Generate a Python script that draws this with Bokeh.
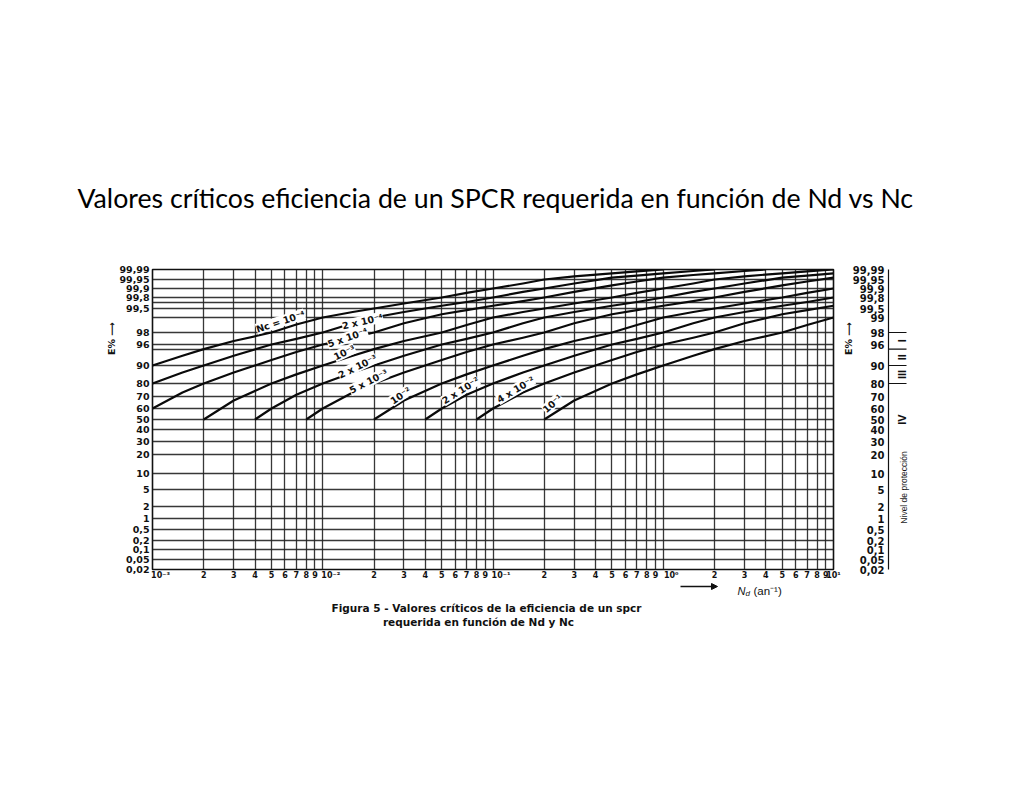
import math
from statistics import NormalDist
import numpy as np
from bokeh.plotting import figure
from bokeh.models import FixedTicker, Label, Range1d, Arrow, NormalHead
from bokeh.layouts import column, row
from bokeh.core.properties import value
from bokeh.embed import file_html
from bokeh.resources import INLINE

TITLE = "Valores críticos eficiencia de un SPCR requerida en función de Nd vs Nc"
CAPTION_1 = "Figura 5 - Valores críticos de la eficiencia de un spcr"
CAPTION_2 = "requerida en función de Nd y Nc"

# ---- E % axis: printed tick values, their labels, and the chart's non-linear scale
E_TICKS = [0.02, 0.05, 0.1, 0.2, 0.5, 1, 2, 5, 10, 20, 30, 40, 50, 60, 70, 80, 90,
           96, 98, 99, 99.5, 99.8, 99.9, 99.95, 99.99]
E_LABELS = ["0,02", "0,05", "0,1", "0,2", "0,5", "1", "2", "5", "10", "20", "30", "40",
            "50", "60", "70", "80", "90", "96", "98", "99", "99,5", "99,8", "99,9",
            "99,95", "99,99"]
E_SCALE = [0, 10, 20, 29, 40, 51, 63, 80, 96, 115, 128, 140, 150, 161, 173, 186, 204,
           225, 237, 252, 261, 272, 281, 290, 300]
E_EXTRA_GRID = [95, 99.7]

# ---- Nd axis
X_DECADES = [1e-3, 1e-2, 1e-1, 1.0, 10.0]
X_DECADE_LABELS = ["10⁻³", "10⁻²", "10⁻¹", "10⁰", "10¹"]
X_MULTIPLIERS = [2, 3, 4, 5, 6, 7, 8, 9]

# ---- protection levels
PROT_LEVELS = [98, 95, 90, 80]
PROT_NAMES = ["I", "II", "III", "IV"]

# ---- curves E% (Nd) for each Nc
NC_LABELS = ["Nc = 10⁻⁴", "2 x 10⁻⁴", "5 x 10⁻⁴", "10⁻³", "2 x 10⁻³", "5 x 10⁻³",
             "10⁻²", "2 x 10⁻²", "4 x 10⁻²", "10⁻¹"]

ND_NC_1E4 = [0.001, 0.0015, 0.002, 0.003, 0.005, 0.007, 0.01, 0.015, 0.02, 0.03, 0.05,
             0.07, 0.1, 0.15, 0.2, 0.3, 0.5, 0.7, 1.0]
E_NC_1E4 = [90, 93.3, 95, 96.7, 98, 98.6, 99, 99.33, 99.5, 99.67, 99.8, 99.86, 99.9,
            99.93, 99.95, 99.967, 99.98, 99.986, 99.99]

ND_NC_2E4 = [0.001, 0.0015, 0.002, 0.003, 0.005, 0.007, 0.01, 0.015, 0.02, 0.03, 0.05,
             0.07, 0.1, 0.15, 0.2, 0.3, 0.5, 0.7, 1.0, 1.5, 2.0]
E_NC_2E4 = [80, 86.7, 90, 93.3, 96, 97.1, 98, 98.67, 99, 99.33, 99.6, 99.71, 99.8,
            99.87, 99.9, 99.93, 99.96, 99.97, 99.98, 99.987, 99.99]

ND_NC_5E4 = [0.001, 0.0015, 0.002, 0.003, 0.005, 0.007, 0.01, 0.015, 0.02, 0.03, 0.05,
             0.07, 0.1, 0.15, 0.2, 0.3, 0.5, 0.7, 1.0, 1.5, 2.0, 3.0, 4.0]
E_NC_5E4 = [60, 73.3, 80, 86.7, 92, 94.3, 96, 97.3, 98, 98.67, 99.2, 99.43, 99.6,
            99.73, 99.8, 99.87, 99.92, 99.94, 99.96, 99.973, 99.98, 99.987, 99.99]

ND_NC_1E3 = [0.002, 0.003, 0.005, 0.007, 0.01, 0.015, 0.02, 0.03, 0.05, 0.07, 0.1, 0.15,
             0.2, 0.3, 0.5, 0.7, 1.0, 1.5, 2.0, 3.0, 5.0, 7.0, 10.0]
E_NC_1E3 = [50, 66.7, 80, 85.7, 90, 93.3, 95, 96.7, 98, 98.57, 99, 99.33, 99.5, 99.67,
            99.8, 99.86, 99.9, 99.93, 99.95, 99.967, 99.98, 99.986, 99.99]

ND_NC_2E3 = [0.004, 0.005, 0.007, 0.01, 0.015, 0.02, 0.03, 0.05, 0.07, 0.1, 0.15, 0.2,
             0.3, 0.5, 0.7, 1.0, 1.5, 2.0, 3.0, 5.0, 7.0, 10.0]
E_NC_2E3 = [50, 60, 71.4, 80, 86.7, 90, 93.3, 96, 97.1, 98, 98.67, 99, 99.33, 99.6,
            99.71, 99.8, 99.87, 99.9, 99.93, 99.96, 99.97, 99.98]

ND_NC_5E3 = [0.008, 0.01, 0.015, 0.02, 0.03, 0.05, 0.07, 0.1, 0.15, 0.2, 0.3, 0.5, 0.7,
             1.0, 1.5, 2.0, 3.0, 5.0, 7.0, 10.0]
E_NC_5E3 = [50, 60, 73.3, 80, 86.7, 92, 94.3, 96, 97.3, 98, 98.67, 99.2, 99.43, 99.6,
            99.73, 99.8, 99.87, 99.92, 99.94, 99.96]

ND_NC_1E2 = [0.02, 0.03, 0.05, 0.07, 0.1, 0.15, 0.2, 0.3, 0.5, 0.7, 1.0, 1.5, 2.0, 3.0,
             5.0, 7.0, 10.0]
E_NC_1E2 = [50, 66.7, 80, 85.7, 90, 93.3, 95, 96.7, 98, 98.57, 99, 99.33, 99.5, 99.67,
            99.8, 99.86, 99.9]

ND_NC_2E2 = [0.04, 0.05, 0.07, 0.1, 0.15, 0.2, 0.3, 0.5, 0.7, 1.0, 1.5, 2.0, 3.0, 5.0,
             7.0, 10.0]
E_NC_2E2 = [50, 60, 71.4, 80, 86.7, 90, 93.3, 96, 97.1, 98, 98.67, 99, 99.33, 99.6,
            99.71, 99.8]

ND_NC_4E2 = [0.08, 0.1, 0.15, 0.2, 0.3, 0.5, 0.7, 1.0, 1.5, 2.0, 3.0, 5.0, 7.0, 10.0]
E_NC_4E2 = [50, 60, 73.3, 80, 86.7, 92, 94.3, 96, 97.3, 98, 98.67, 99.2, 99.43, 99.6]

ND_NC_1E1 = [0.2, 0.3, 0.5, 0.7, 1.0, 1.5, 2.0, 3.0, 5.0, 7.0, 10.0]
E_NC_1E1 = [50, 66.7, 80, 85.7, 90, 93.3, 95, 96.7, 98, 98.57, 99]

CURVES = [(ND_NC_1E4, E_NC_1E4), (ND_NC_2E4, E_NC_2E4), (ND_NC_5E4, E_NC_5E4),
          (ND_NC_1E3, E_NC_1E3), (ND_NC_2E3, E_NC_2E3), (ND_NC_5E3, E_NC_5E3),
          (ND_NC_1E2, E_NC_1E2), (ND_NC_2E2, E_NC_2E2), (ND_NC_4E2, E_NC_4E2),
          (ND_NC_1E1, E_NC_1E1)]

# ---------------------------------------------------------------- E% scale transform
_ND = NormalDist()


def _probit(e):
    return np.array([_ND.inv_cdf(v / 100.0) for v in np.atleast_1d(np.asarray(e, float))])


def _pchip_coeffs(xk, yk):
    h = np.diff(xk)
    d = np.diff(yk) / h
    n = len(xk)
    m = np.zeros(n)
    for k in range(1, n - 1):
        if d[k - 1] * d[k] <= 0:
            m[k] = 0.0
        else:
            w1 = 2 * h[k] + h[k - 1]
            w2 = h[k] + 2 * h[k - 1]
            m[k] = (w1 + w2) / (w1 / d[k - 1] + w2 / d[k])
    m[0], m[-1] = d[0], d[-1]
    return h, m


_TK = _probit(E_TICKS)
_SK = np.asarray(E_SCALE, float)
_H, _M = _pchip_coeffs(_TK, _SK)


def ymap(e):
    """Map E% onto the chart's printed (probability-like) vertical scale."""
    t = _probit(e)
    i = np.clip(np.searchsorted(_TK, t) - 1, 0, len(_TK) - 2)
    s = (t - _TK[i]) / _H[i]
    h00 = 2 * s ** 3 - 3 * s ** 2 + 1
    h10 = s ** 3 - 2 * s ** 2 + s
    h01 = -2 * s ** 3 + 3 * s ** 2
    h11 = s ** 3 - s ** 2
    return h00 * _SK[i] + h10 * _H[i] * _M[i] + h01 * _SK[i + 1] + h11 * _H[i] * _M[i + 1]


FONT_TICK = "DejaVu Sans"
INK = "#111111"

# ---------------------------------------------------------------- layout geometry
PAGE_W = 1016
TOP_H = 240
CH_TOP, CH_FRAME_H, CH_BOTTOM = 29, 300, 13
ROW_H = CH_TOP + CH_FRAME_H + CH_BOTTOM
LEFT_W = 116
CH_LEFT, CH_FRAME_W, CH_RIGHT = 36, 681, 10
CH_W = CH_LEFT + CH_FRAME_W + CH_RIGHT
RIGHT_W = PAGE_W - LEFT_W - CH_W
BOT_H = 200
SIDE_YR = (-(CH_BOTTOM), CH_FRAME_H + CH_TOP)


def blank(width, height, xr, yr):
    f = figure(frame_width=width, frame_height=height, x_range=xr, y_range=yr,
               x_axis_type=None, y_axis_type=None, output_backend="svg",
               toolbar_location=None, title_location=None, min_border=0,
               min_border_left=0, min_border_right=0,
               min_border_top=0, min_border_bottom=0)
    f.grid.visible = False
    f.outline_line_color = None
    f.background_fill_color = "white"
    f.border_fill_color = "white"
    return f


# ---------------------------------------------------------------- chart
p = figure(width=CH_W, height=ROW_H, x_axis_type="log",
           x_range=Range1d(1e-3, 10), y_range=Range1d(0, 300),
           output_backend="svg", toolbar_location=None, title_location=None,
           min_border_left=CH_LEFT, min_border_right=CH_RIGHT,
           min_border_top=CH_TOP, min_border_bottom=CH_BOTTOM)
p.background_fill_color = "white"
p.border_fill_color = "white"
p.outline_line_color = INK
p.outline_line_width = 1.6

x_ticks = []
x_over = {}
for d, lab in zip(X_DECADES, X_DECADE_LABELS):
    x_ticks.append(d)
    # decade labels sit just right of their grid line, as printed
    x_over[d] = lab if d == X_DECADES[-1] else "\u2003\u2003" + lab
for d in X_DECADES[:-1]:
    for m in X_MULTIPLIERS:
        v = m * d
        x_ticks.append(v)
        x_over[v] = str(m)

p.xgrid.ticker = FixedTicker(ticks=x_ticks)
p.ygrid.ticker = FixedTicker(ticks=list(E_SCALE) + [float(v) for v in ymap(E_EXTRA_GRID)])
for g in (p.xgrid, p.ygrid):
    g.grid_line_color = "#222222"
    g.grid_line_width = 1.3
    g.grid_line_alpha = 0.9

xa = p.xaxis[0]
xa.ticker = FixedTicker(ticks=x_ticks)
xa.major_label_overrides = x_over
xa.major_tick_out = 0
xa.major_tick_in = 0
xa.minor_tick_out = 0
xa.minor_tick_in = 0
xa.axis_line_color = None
xa.major_label_standoff = 1
xa.major_label_text_font = FONT_TICK
xa.major_label_text_font_style = "bold"
xa.major_label_text_font_size = "8px"
xa.major_label_text_color = INK

ya = p.yaxis[0]
ya.ticker = FixedTicker(ticks=[s for s, e in zip(E_SCALE, E_TICKS) if e != 99])
ya.major_label_overrides = {s: l for s, l in zip(E_SCALE, E_LABELS)}
ya.major_tick_out = 0
ya.major_tick_in = 0
ya.minor_tick_out = 0
ya.minor_tick_in = 0
ya.axis_line_color = None
ya.major_label_standoff = 3
ya.major_label_text_font = FONT_TICK
ya.major_label_text_font_style = "bold"
ya.major_label_text_font_size = "9.5px"
ya.major_label_text_color = INK

for nd, e in CURVES:
    p.line(nd, ymap(e), line_color="#0a0a0a", line_width=2.2, line_join="round")

# curve labels (frame-relative screen positions, angle in degrees)
LABEL_POS = [(128, 248, 18), (210, 248, 13), (195, 232, 19), (192, 217, 25),
             (205, 203, 26), (216, 188, 27), (248, 174, 34), (308, 179, 32),
             (363, 180, 31), (400, 166, 42)]
for txt, (sx, sy, ang) in zip(NC_LABELS, LABEL_POS):
    p.add_layout(Label(x=sx, y=sy, x_units="screen", y_units="screen", text=txt,
                       angle=math.radians(ang), text_align="center",
                       text_baseline="middle", text_font=FONT_TICK,
                       text_font_style="bold", text_font_size="9.5px",
                       text_color=INK, background_fill_color="white"))

# ---------------------------------------------------------------- left strip
left = blank(LEFT_W, ROW_H, Range1d(0, LEFT_W), Range1d(*SIDE_YR))
left.text(x=[111], y=[231], text=["E% ⟶"], angle=math.pi / 2, text_align="center",
          text_baseline="middle", text_font=value(FONT_TICK), text_font_style="bold",
          text_font_size="9.5px", text_color=INK)

# ---------------------------------------------------------------- right strip
x0 = LEFT_W + CH_W
right = blank(RIGHT_W, ROW_H, Range1d(x0, PAGE_W), Range1d(*SIDE_YR))
right.text(x=[884] * len(E_TICKS), y=E_SCALE, text=E_LABELS, text_align="right",
           text_baseline="middle", text_font=value(FONT_TICK), text_font_style="bold",
           text_font_size="10px", text_color=INK)
right.text(x=[848], y=[231], text=["E% ⟶"], angle=math.pi / 2, text_align="center",
           text_baseline="middle", text_font=value(FONT_TICK), text_font_style="bold",
           text_font_size="9.5px", text_color=INK)
ybot, ytop = float(E_SCALE[0]), float(E_SCALE[-1])
right.segment(x0=[888], y0=[ybot], x1=[888], y1=[ytop], line_color=INK, line_width=1.2)
prot_y = ymap(PROT_LEVELS)
right.segment(x0=[888] * len(PROT_LEVELS), y0=prot_y, x1=[906] * len(PROT_LEVELS),
              y1=prot_y, line_color=INK, line_width=1.2)
prot_mid = [(prot_y[0] + prot_y[1]) / 2, (prot_y[1] + prot_y[2]) / 2,
            (prot_y[2] + prot_y[3]) / 2, float(ymap(50)[0])]
right.text(x=[901] * len(PROT_NAMES), y=prot_mid, text=PROT_NAMES, angle=math.pi / 2,
           text_align="center", text_baseline="middle",
           text_font=value("Liberation Sans"), text_font_style="bold",
           text_font_size="11px", text_color=INK)
right.text(x=[903], y=[82], text=["Nivel de protección"], angle=math.pi / 2,
           text_align="center", text_baseline="middle",
           text_font=value("Liberation Sans"), text_font_size="8.5px",
           text_color="#1a1a1a")

# ---------------------------------------------------------------- top (slide title)
top = blank(PAGE_W, TOP_H, Range1d(0, PAGE_W), Range1d(TOP_H, 0))
top.text(x=[77], y=[197], text=[TITLE], text_align="left", text_baseline="alphabetic",
         text_font=value("Lato"), text_font_size="26.7px", text_color="#000000")

# ---------------------------------------------------------------- bottom (Nd + caption)
b0 = TOP_H + ROW_H
bottom = blank(PAGE_W, BOT_H, Range1d(0, PAGE_W), Range1d(b0 + BOT_H, b0))
bottom.add_layout(Arrow(end=NormalHead(size=6, fill_color=INK, line_color=INK),
                        x_start=680, y_start=586, x_end=717, y_end=586,
                        line_color=INK, line_width=1.3))
bottom.text(x=[737], y=[590], text=["N"], text_align="left", text_baseline="alphabetic",
            text_font=value("Liberation Sans"), text_font_style="italic",
            text_font_size="11px", text_color=INK)
bottom.text(x=[745], y=[592.5], text=["d"], text_align="left", text_baseline="alphabetic",
            text_font=value("Liberation Sans"), text_font_style="italic",
            text_font_size="8px", text_color=INK)
bottom.text(x=[753], y=[590], text=["(an⁻¹)"], text_align="left",
            text_baseline="alphabetic", text_font=value("Liberation Sans"),
            text_font_size="11.5px", text_color=INK)
bottom.text(x=[486, 478], y=[607, 621], text=[CAPTION_1, CAPTION_2], text_align="center",
            text_baseline="alphabetic", text_font=value(FONT_TICK),
            text_font_style="bold", text_font_size="10.5px", text_color=INK)

# side strips are wrapped in their own columns so that the row does not align
# their (empty) borders with the chart's borders
layout = column(top, row(column(left), p, column(right)), bottom)
open("out.html", "w").write(file_html(layout, INLINE))
